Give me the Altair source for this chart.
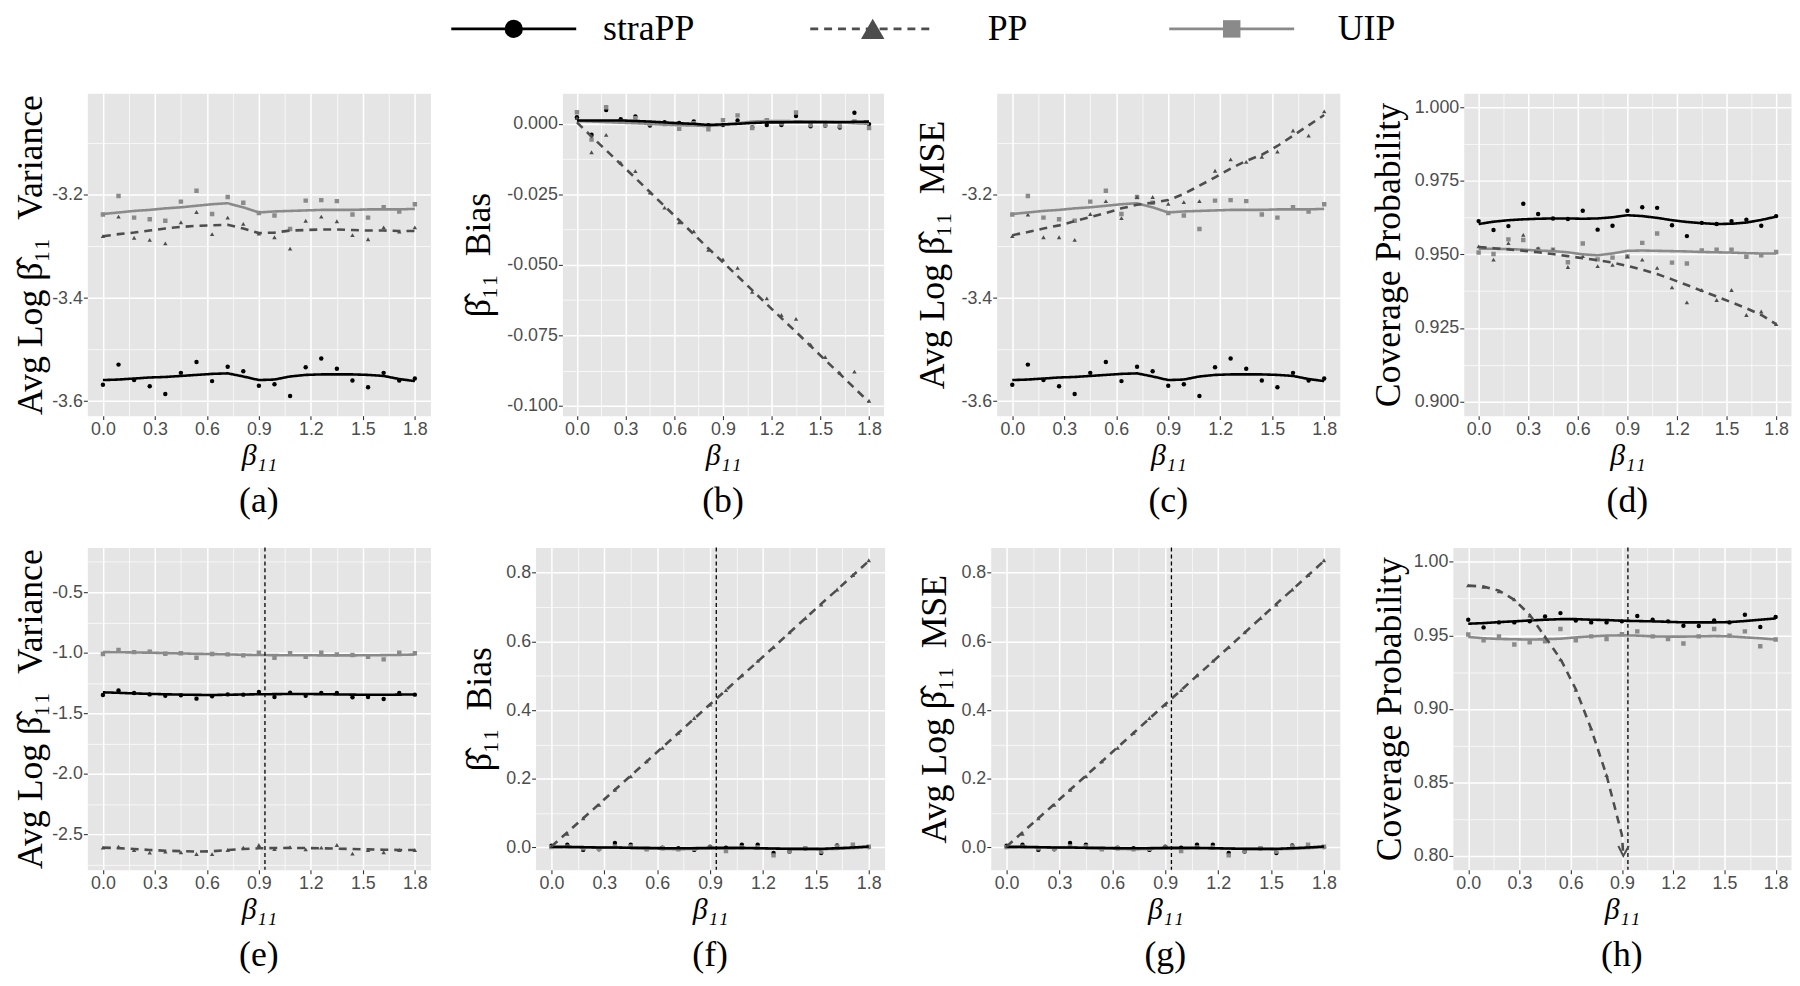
import altair as alt
import pandas as pd

# ---------------- data ----------------
X = [0.0, 0.09, 0.18, 0.27, 0.36, 0.45, 0.54, 0.63, 0.72, 0.81, 0.90,
     0.99, 1.08, 1.17, 1.26, 1.35, 1.44, 1.53, 1.62, 1.71, 1.80]
SERIES = ["straPP", "PP", "UIP"]
COLORS = ["#000000", "#4d4d4d", "#8a8a8a"]
SHAPES = ["circle", "triangle-up", "square"]

X_MAJOR = [0.0, 0.3, 0.6, 0.9, 1.2, 1.5, 1.8]
X_MINOR = [0.15, 0.45, 0.75, 1.05, 1.35, 1.65]

# (a) variance, (c) MSE  -- scenario 1
A_STRA_PTS = [-3.568, -3.529, -3.559, -3.571, -3.586, -3.545, -3.524, -3.561, -3.533, -3.542, -3.570,
              -3.567, -3.590, -3.534, -3.517, -3.537, -3.560, -3.573, -3.545, -3.560, -3.556]
A_STRA_LINE = [-3.559, -3.558, -3.556, -3.554, -3.553, -3.551, -3.549, -3.547, -3.546, -3.552, -3.559,
               -3.558, -3.552, -3.549, -3.548, -3.548, -3.548, -3.549, -3.551, -3.557, -3.561]
A_UIP_PTS = [-3.238, -3.202, -3.244, -3.247, -3.250, -3.213, -3.192, -3.237, -3.204, -3.215, -3.235,
             -3.240, -3.266, -3.211, -3.210, -3.212, -3.238, -3.244, -3.224, -3.232, -3.218]
A_UIP_LINE = [-3.237, -3.234, -3.231, -3.229, -3.226, -3.224, -3.221, -3.218, -3.216, -3.224, -3.234,
              -3.232, -3.231, -3.230, -3.229, -3.229, -3.229, -3.228, -3.228, -3.228, -3.227]
A_PP_PTS = [-3.280, -3.242, -3.283, -3.287, -3.294, -3.253, -3.233, -3.276, -3.244, -3.256, -3.275,
            -3.282, -3.304, -3.250, -3.242, -3.251, -3.278, -3.286, -3.263, -3.271, -3.263]
A_PP_LINE = [-3.280, -3.276, -3.273, -3.269, -3.265, -3.262, -3.260, -3.259, -3.258, -3.265, -3.274,
             -3.273, -3.269, -3.268, -3.267, -3.267, -3.268, -3.269, -3.269, -3.270, -3.270]
C_PP_PTS = [-3.280, -3.238, -3.282, -3.282, -3.287, -3.237, -3.212, -3.245, -3.204, -3.204, -3.217,
            -3.214, -3.212, -3.153, -3.131, -3.136, -3.126, -3.116, -3.075, -3.085, -3.038]
C_PP_LINE = [-3.278, -3.272, -3.265, -3.259, -3.251, -3.243, -3.235, -3.226, -3.219, -3.215, -3.210,
             -3.198, -3.182, -3.166, -3.149, -3.134, -3.122, -3.105, -3.085, -3.065, -3.045]

# (b) bias -- scenario 1
B_STRA_PTS = [0.0023, -0.0039, 0.0049, 0.0016, 0.0026, -0.0006, 0.0006, 0.0003, 0.0008, -0.0005, -0.0004,
              0.0012, -0.0013, -0.0004, -0.0004, 0.0028, -0.0009, -0.0006, -0.0013, 0.0039, -0.0001]
B_STRA_LINE = [0.0012, 0.0012, 0.0012, 0.0012, 0.0010, 0.0008, 0.0005, 0.0002, 0.0000, -0.0004, -0.0002,
               0.0000, 0.0003, 0.0005, 0.0005, 0.0006, 0.0006, 0.0006, 0.0006, 0.0007, 0.0008]
B_UIP_PTS = [0.0041, -0.0056, 0.0059, 0.0008, 0.0020, -0.0001, -0.0001, -0.0018, 0.0002, -0.0019, 0.0013,
             0.0030, -0.0015, 0.0013, 0.0002, 0.0040, -0.0004, -0.0004, -0.0009, 0.0008, -0.0015]
B_UIP_LINE = [0.0010, 0.0008, 0.0006, 0.0004, 0.0002, 0.0000, -0.0003, -0.0005, -0.0006, -0.0008, -0.0004,
              0.0002, 0.0008, 0.0010, 0.0010, 0.0009, 0.0008, 0.0007, 0.0005, 0.0002, 0.0000]
B_PP_PTS = [0.0020, -0.0101, -0.0039, -0.0138, -0.0168, -0.0244, -0.0297, -0.0349, -0.0381, -0.0447, -0.0481,
            -0.0511, -0.0596, -0.0619, -0.0678, -0.0692, -0.0783, -0.0827, -0.0883, -0.0879, -0.0982]
B_PP_LINE = [0.0005, -0.0045, -0.0094, -0.0143, -0.0192, -0.0242, -0.0292, -0.0342, -0.0392, -0.0442, -0.0491,
             -0.0540, -0.0590, -0.0640, -0.0689, -0.0738, -0.0788, -0.0838, -0.0887, -0.0937, -0.0987]

# (d) coverage -- scenario 1
D_STRA_PTS = [0.9613, 0.9583, 0.9596, 0.9672, 0.9637, 0.9622, 0.9620, 0.9648, 0.9584, 0.9597, 0.9648,
              0.9660, 0.9658, 0.9599, 0.9562, 0.9607, 0.9603, 0.9613, 0.9618, 0.9597, 0.9630]
D_STRA_LINE = [0.9603, 0.9611, 0.9616, 0.9619, 0.9621, 0.9622, 0.9622, 0.9621, 0.9622, 0.9626, 0.9633,
               0.9630, 0.9624, 0.9616, 0.9610, 0.9606, 0.9603, 0.9604, 0.9608, 0.9617, 0.9628]
D_UIP_PTS = [0.9506, 0.9501, 0.9551, 0.9549, 0.9517, 0.9516, 0.9473, 0.9537, 0.9483, 0.9489, 0.9493,
             0.9539, 0.9571, 0.9472, 0.9469, 0.9513, 0.9516, 0.9516, 0.9492, 0.9497, 0.9508]
D_UIP_LINE = [0.9519, 0.9519, 0.9518, 0.9516, 0.9513, 0.9511, 0.9507, 0.9500, 0.9497, 0.9503, 0.9512,
              0.9513, 0.9512, 0.9511, 0.9510, 0.9508, 0.9507, 0.9506, 0.9504, 0.9503, 0.9503]
D_PP_PTS = [0.9527, 0.9482, 0.9538, 0.9566, 0.9521, 0.9516, 0.9457, 0.9494, 0.9460, 0.9464, 0.9493,
            0.9482, 0.9454, 0.9388, 0.9337, 0.9379, 0.9345, 0.9379, 0.9294, 0.9306, 0.9263]
D_PP_LINE = [0.9525, 0.9521, 0.9517, 0.9512, 0.9507, 0.9501, 0.9494, 0.9487, 0.9480, 0.9472, 0.9461,
             0.9448, 0.9433, 0.9415, 0.9396, 0.9376, 0.9357, 0.9337, 0.9317, 0.9294, 0.9263]

# (e) variance -- scenario 2
E_STRA_PTS = [-1.349, -1.311, -1.333, -1.344, -1.355, -1.352, -1.379, -1.360, -1.344, -1.346, -1.325,
              -1.365, -1.330, -1.355, -1.333, -1.333, -1.368, -1.365, -1.382, -1.333, -1.346]
E_STRA_LINE = [-1.327, -1.331, -1.336, -1.340, -1.343, -1.346, -1.348, -1.349, -1.347, -1.345, -1.343,
               -1.342, -1.341, -1.341, -1.342, -1.344, -1.346, -1.347, -1.347, -1.346, -1.344]
E_UIP_PTS = [-1.011, -0.978, -0.995, -0.992, -1.008, -1.005, -1.041, -1.011, -1.014, -1.022, -1.000,
             -1.041, -1.005, -1.033, -1.000, -1.014, -1.019, -1.033, -1.055, -1.000, -1.005]
E_UIP_LINE = [-0.995, -0.996, -0.998, -1.000, -1.003, -1.006, -1.009, -1.011, -1.014, -1.017, -1.019,
              -1.020, -1.021, -1.021, -1.022, -1.022, -1.022, -1.021, -1.020, -1.018, -1.015]
E_PP_PTS = [-2.609, -2.601, -2.628, -2.650, -2.642, -2.647, -2.661, -2.663, -2.628, -2.609, -2.587,
            -2.620, -2.604, -2.623, -2.609, -2.587, -2.658, -2.628, -2.647, -2.628, -2.628]
E_PP_LINE = [-2.609, -2.613, -2.620, -2.628, -2.634, -2.638, -2.642, -2.639, -2.628, -2.620, -2.614,
             -2.612, -2.611, -2.612, -2.614, -2.617, -2.620, -2.623, -2.626, -2.628, -2.628]

# (f) bias, (g) MSE -- scenario 2
F_STRA_PTS = [0.005, 0.008, -0.007, -0.005, 0.013, 0.008, -0.004, -0.001, -0.002, -0.007, 0.002,
              -0.001, 0.008, 0.008, -0.016, -0.012, -0.002, -0.016, 0.006, 0.002, 0.001]
F_STRA_LINE = [0.002, 0.002, 0.001, 0.000, 0.000, -0.001, -0.001, -0.002, -0.002, -0.002, -0.001,
               -0.001, -0.001, -0.002, -0.003, -0.004, -0.004, -0.004, -0.002, 0.000, 0.003]
F_UIP_PTS = [0.001, 0.002, -0.002, -0.004, 0.003, 0.003, -0.005, -0.002, -0.005, -0.004, 0.000,
             -0.010, 0.000, 0.000, -0.023, -0.010, -0.002, -0.012, 0.003, 0.008, 0.002]
F_UIP_LINE = [-0.001, 0.000, 0.000, 0.000, 0.000, -0.001, -0.003, -0.004, -0.005, -0.004, -0.003,
              -0.003, -0.002, -0.002, -0.003, -0.004, -0.004, -0.005, -0.004, -0.002, 0.001]
F_PP_PTS = [0.004, 0.040, 0.085, 0.124, 0.168, 0.207, 0.251, 0.290, 0.334, 0.377, 0.416,
            0.458, 0.501, 0.543, 0.583, 0.626, 0.668, 0.707, 0.751, 0.793, 0.836]
F_PP_LINE = [0.003, 0.044, 0.085, 0.126, 0.168, 0.209, 0.250, 0.292, 0.333, 0.375, 0.417,
             0.458, 0.500, 0.541, 0.583, 0.625, 0.667, 0.709, 0.750, 0.792, 0.834]

# (h) coverage -- scenario 2
H_STRA_PTS = [0.9606, 0.9554, 0.9588, 0.9588, 0.9595, 0.9628, 0.9651, 0.9601, 0.9588, 0.9588, 0.9595,
              0.9631, 0.9606, 0.9595, 0.9565, 0.9563, 0.9601, 0.9588, 0.9640, 0.9556, 0.9624]
H_STRA_LINE = [0.9579, 0.9583, 0.9590, 0.9595, 0.9601, 0.9606, 0.9610, 0.9610, 0.9606, 0.9604, 0.9599,
               0.9597, 0.9595, 0.9592, 0.9588, 0.9588, 0.9588, 0.9590, 0.9597, 0.9606, 0.9615]
H_UIP_PTS = [0.9505, 0.9466, 0.9493, 0.9437, 0.9453, 0.9459, 0.9543, 0.9466, 0.9493, 0.9475, 0.9507,
             0.9527, 0.9493, 0.9475, 0.9444, 0.9493, 0.9543, 0.9498, 0.9527, 0.9426, 0.9471]
H_UIP_LINE = [0.9489, 0.9480, 0.9475, 0.9473, 0.9471, 0.9473, 0.9477, 0.9486, 0.9493, 0.9498, 0.9500,
              0.9498, 0.9493, 0.9491, 0.9491, 0.9493, 0.9495, 0.9493, 0.9486, 0.9480, 0.9471]
H_PP_X = [0.0, 0.09, 0.18, 0.27, 0.36, 0.45, 0.54, 0.63, 0.72, 0.81, 0.90, 0.908]
H_PP_LINE = [0.9838, 0.9831, 0.9804, 0.9741, 0.9640, 0.9489, 0.9340, 0.9133, 0.8863, 0.8547, 0.8142, 0.8000]
H_PP_PTS_X = [0.0, 0.09, 0.18, 0.27, 0.36, 0.45, 0.54, 0.63, 0.72, 0.81]
H_PP_PTS = [0.9840, 0.9830, 0.9800, 0.9745, 0.9635, 0.9492, 0.9336, 0.9130, 0.8866, 0.8550]
H_ARROW_X = [0.908]
H_ARROW_Y = [0.800]

VLINE_X = [0.935]   # reference line in the second row

# ---------------- helpers ----------------
XDOM = [-0.09, 1.89]
BETA_HAT = "\u03b2\u0302\u2081\u2081"


def long_df(parts):
    rows = []
    for series, xs, ys in parts:
        for xv, yv in zip(xs, ys):
            rows.append({"x": xv, "y": yv, "series": series})
    return pd.DataFrame(rows)


def minor_test(step):
    return f"abs(datum.value/{step} - round(datum.value/{step})) > 0.01"


def make_axis(values, step, fmt, title, extent=None):
    t = minor_test(step)
    kw = {}
    if extent is not None:
        kw = {"minExtent": extent, "maxExtent": extent}
    return alt.Axis(
        values=values,
        labelExpr=f"({t}) ? '' : replace(format(datum.value, '{fmt}'), '\u2212', '-')",
        title=title,
        grid=True,
        gridColor="white",
        gridWidth={"condition": {"test": t, "value": 0.7}, "value": 1.5},
        tickOpacity={"condition": {"test": t, "value": 0}, "value": 1},
        labelFlush=False,
        labelOverlap=False,
        **kw,
    )


PP_DASH = [10, 6]
color_enc = alt.Color("series:N", scale=alt.Scale(domain=SERIES, range=COLORS), legend=None)
dash_enc = alt.StrokeDash("series:N", scale=alt.Scale(domain=SERIES, range=[[1, 0], PP_DASH, [1, 0]]), legend=None)
shape_enc = alt.Shape("series:N", scale=alt.Scale(domain=SERIES, range=SHAPES), legend=None)
size_enc = alt.Size("series:N", scale=alt.Scale(domain=SERIES, range=[20, 20, 14]), legend=None)


def panel(label, ytitle, ydom, ymajor, yminor, ystep, yfmt, pts, lines, width, extent,
          vline=False, arrow=False):
    xenc = alt.X("x:Q", scale=alt.Scale(domain=XDOM, nice=False, zero=False),
                 axis=make_axis(X_MAJOR + X_MINOR, 0.3, ".1f", "\u03b2\u2081\u2081"))
    yenc = alt.Y("y:Q", scale=alt.Scale(domain=ydom, nice=False, zero=False),
                 axis=make_axis(ymajor + yminor, ystep, yfmt, ytitle, extent))
    pdf = long_df(pts)
    ldf = long_df(lines)
    layers = [
        alt.Chart(pdf).mark_point(filled=True, opacity=1, clip=True).encode(
            x=xenc, y=yenc, color=color_enc, shape=shape_enc, size=size_enc),
        alt.Chart(ldf).mark_line(clip=True, strokeWidth=2.6).encode(
            x=xenc, y=yenc, color=color_enc, strokeDash=dash_enc, detail="series:N"),
    ]
    if vline:
        layers.append(alt.Chart(pd.DataFrame({"x": VLINE_X})).mark_rule(
            color="black", strokeWidth=1.3, strokeDash=[4, 3]).encode(x=xenc))
    if arrow:
        layers.append(alt.Chart(pd.DataFrame({"x": H_ARROW_X, "y": H_ARROW_Y})).mark_point(
            shape="M-0.5,-1L0,0L0.55,-1", filled=False, color="#4d4d4d", strokeWidth=2,
            size=400, opacity=1).encode(x=xenc, y=yenc))
    return alt.layer(*layers).properties(
        width=width, height=325,
        title=alt.TitleParams(label, orient="bottom", anchor="middle", frame="group",
                              font="Liberation Serif", fontSize=36, fontWeight="normal",
                              color="black", offset=14),
    )


VAR_T = f"Avg Log {BETA_HAT}\u00a0 Variance"
BIAS_T = f"{BETA_HAT}\u00a0 Bias"
MSE_T = f"Avg Log {BETA_HAT}\u00a0 MSE"
COV_T = "Coverage Probability"

pa = panel("(a)", VAR_T, [-3.628, -3.003], [-3.6, -3.4, -3.2], [-3.5, -3.3, -3.1], 0.2, ".1f",
           [("straPP", X, A_STRA_PTS), ("UIP", X, A_UIP_PTS), ("PP", X, A_PP_PTS)],
           [("UIP", X, A_UIP_LINE), ("straPP", X, A_STRA_LINE), ("PP", X, A_PP_LINE)], 346, 35)
pb = panel("(b)", BIAS_T, [-0.1035, 0.0108], [-0.1, -0.075, -0.05, -0.025, 0.0],
           [-0.0875, -0.0625, -0.0375, -0.0125], 0.025, ".3f",
           [("straPP", X, B_STRA_PTS), ("UIP", X, B_UIP_PTS), ("PP", X, B_PP_PTS)],
           [("UIP", X, B_UIP_LINE), ("straPP", X, B_STRA_LINE), ("PP", X, B_PP_LINE)], 324, 62)
pc = panel("(c)", MSE_T, [-3.628, -3.003], [-3.6, -3.4, -3.2], [-3.5, -3.3, -3.1], 0.2, ".1f",
           [("straPP", X, A_STRA_PTS), ("UIP", X, A_UIP_PTS), ("PP", X, C_PP_PTS)],
           [("UIP", X, A_UIP_LINE), ("straPP", X, A_STRA_LINE), ("PP", X, C_PP_LINE)], 346, 43)
pd_ = panel("(d)", COV_T, [0.8952, 1.0047], [0.9, 0.925, 0.95, 0.975, 1.0],
            [0.9125, 0.9375, 0.9625, 0.9875], 0.025, ".3f",
            [("straPP", X, D_STRA_PTS), ("UIP", X, D_UIP_PTS), ("PP", X, D_PP_PTS)],
            [("UIP", X, D_UIP_LINE), ("straPP", X, D_STRA_LINE), ("PP", X, D_PP_LINE)], 330, 54)
pe = panel("(e)", VAR_T, [-2.792, -0.132], [-2.5, -2.0, -1.5, -1.0, -0.5],
           [-2.75, -2.25, -1.75, -1.25, -0.75, -0.25], 0.5, ".1f",
           [("straPP", X, E_STRA_PTS), ("UIP", X, E_UIP_PTS), ("PP", X, E_PP_PTS)],
           [("UIP", X, E_UIP_LINE), ("straPP", X, E_STRA_LINE), ("PP", X, E_PP_LINE)], 346, 35,
           vline=True)
pf = panel("(f)", BIAS_T, [-0.065, 0.873], [0.0, 0.2, 0.4, 0.6, 0.8], [0.1, 0.3, 0.5, 0.7], 0.2, ".1f",
           [("straPP", X, F_STRA_PTS), ("UIP", X, F_UIP_PTS), ("PP", X, F_PP_PTS)],
           [("UIP", X, F_UIP_LINE), ("straPP", X, F_STRA_LINE), ("PP", X, F_PP_LINE)], 352, 34,
           vline=True)
pg = panel("(g)", MSE_T, [-0.065, 0.873], [0.0, 0.2, 0.4, 0.6, 0.8], [0.1, 0.3, 0.5, 0.7], 0.2, ".1f",
           [("straPP", X, F_STRA_PTS), ("UIP", X, F_UIP_PTS), ("PP", X, F_PP_PTS)],
           [("UIP", X, F_UIP_LINE), ("straPP", X, F_STRA_LINE), ("PP", X, F_PP_LINE)], 352, 35,
           vline=True)
ph = panel("(h)", COV_T, [0.7905, 1.0097], [0.8, 0.85, 0.9, 0.95, 1.0], [0.825, 0.875, 0.925, 0.975],
           0.05, ".2f",
           [("straPP", X, H_STRA_PTS), ("UIP", X, H_UIP_PTS), ("PP", H_PP_PTS_X, H_PP_PTS)],
           [("UIP", X, H_UIP_LINE), ("straPP", X, H_STRA_LINE), ("PP", H_PP_X, H_PP_LINE)], 341, 42,
           vline=True, arrow=True)

# ---------------- legend ----------------
LEG_MARK_SIZE = {"straPP": 340, "PP": 560, "UIP": 310}
leg_df = pd.DataFrame({"key": SERIES})
lx = alt.X("key:N", scale=alt.Scale(type="point", domain=SERIES, range=[430, 1154], padding=0), axis=None)
lcolor = alt.Color("key:N", scale=alt.Scale(domain=SERIES, range=COLORS), legend=None)
ldash = alt.StrokeDash("key:N", scale=alt.Scale(domain=SERIES, range=[[1, 0], [8, 6], [1, 0]]), legend=None)
leg_base = alt.Chart(leg_df).properties(
    width=1320, height=24, view=alt.ViewBackground(fill="white", stroke="transparent"))
leg_layers = [leg_base.mark_rule(xOffset=-63, x2Offset=63, strokeWidth=2.7).encode(
    x=lx, x2="key:N", y=alt.value(12), color=lcolor, strokeDash=ldash)]
for s, shp, col in zip(SERIES, SHAPES, COLORS):
    leg_layers.append(leg_base.transform_filter(alt.datum.key == s).mark_point(
        filled=True, opacity=1, shape=shp, color=col, size=LEG_MARK_SIZE[s]).encode(
        x=lx, y=alt.value(12)))
leg_layers.append(leg_base.mark_text(align="center", baseline="middle", dx=136, font="Liberation Serif",
                                     fontSize=36, color="black").encode(x=lx, y=alt.value(12), text="key:N"))
legend = alt.layer(*leg_layers)

row1 = alt.hconcat(pa, pb, pc, pd_, spacing=29)
row2 = alt.hconcat(pe, pf, pg, ph, spacing=30)
grid = alt.vconcat(row1, row2, spacing=26)

chart = alt.vconcat(legend, grid, spacing=45).resolve_scale(
    size="independent"
).properties(
    padding={"left": 4, "top": -2, "right": 0, "bottom": 0}, background="white"
).configure_view(
    fill="#E5E5E5", stroke="transparent"
).configure_axis(
    labelFont="Liberation Sans", labelFontSize=18, labelColor="#4d4d4d", labelPadding=1,
    titleFont="Liberation Serif", titleFontWeight="normal", titleColor="black",
    tickColor="#333333", tickSize=4, tickWidth=1.1, domain=False,
).configure_axisX(
    titleFontSize=30, titleFontStyle="italic", titlePadding=2,
).configure_axisY(
    titleFontSize=36, titlePadding=3,
)

chart.save("out.html", embed_options={"renderer": "svg", "actions": False})
